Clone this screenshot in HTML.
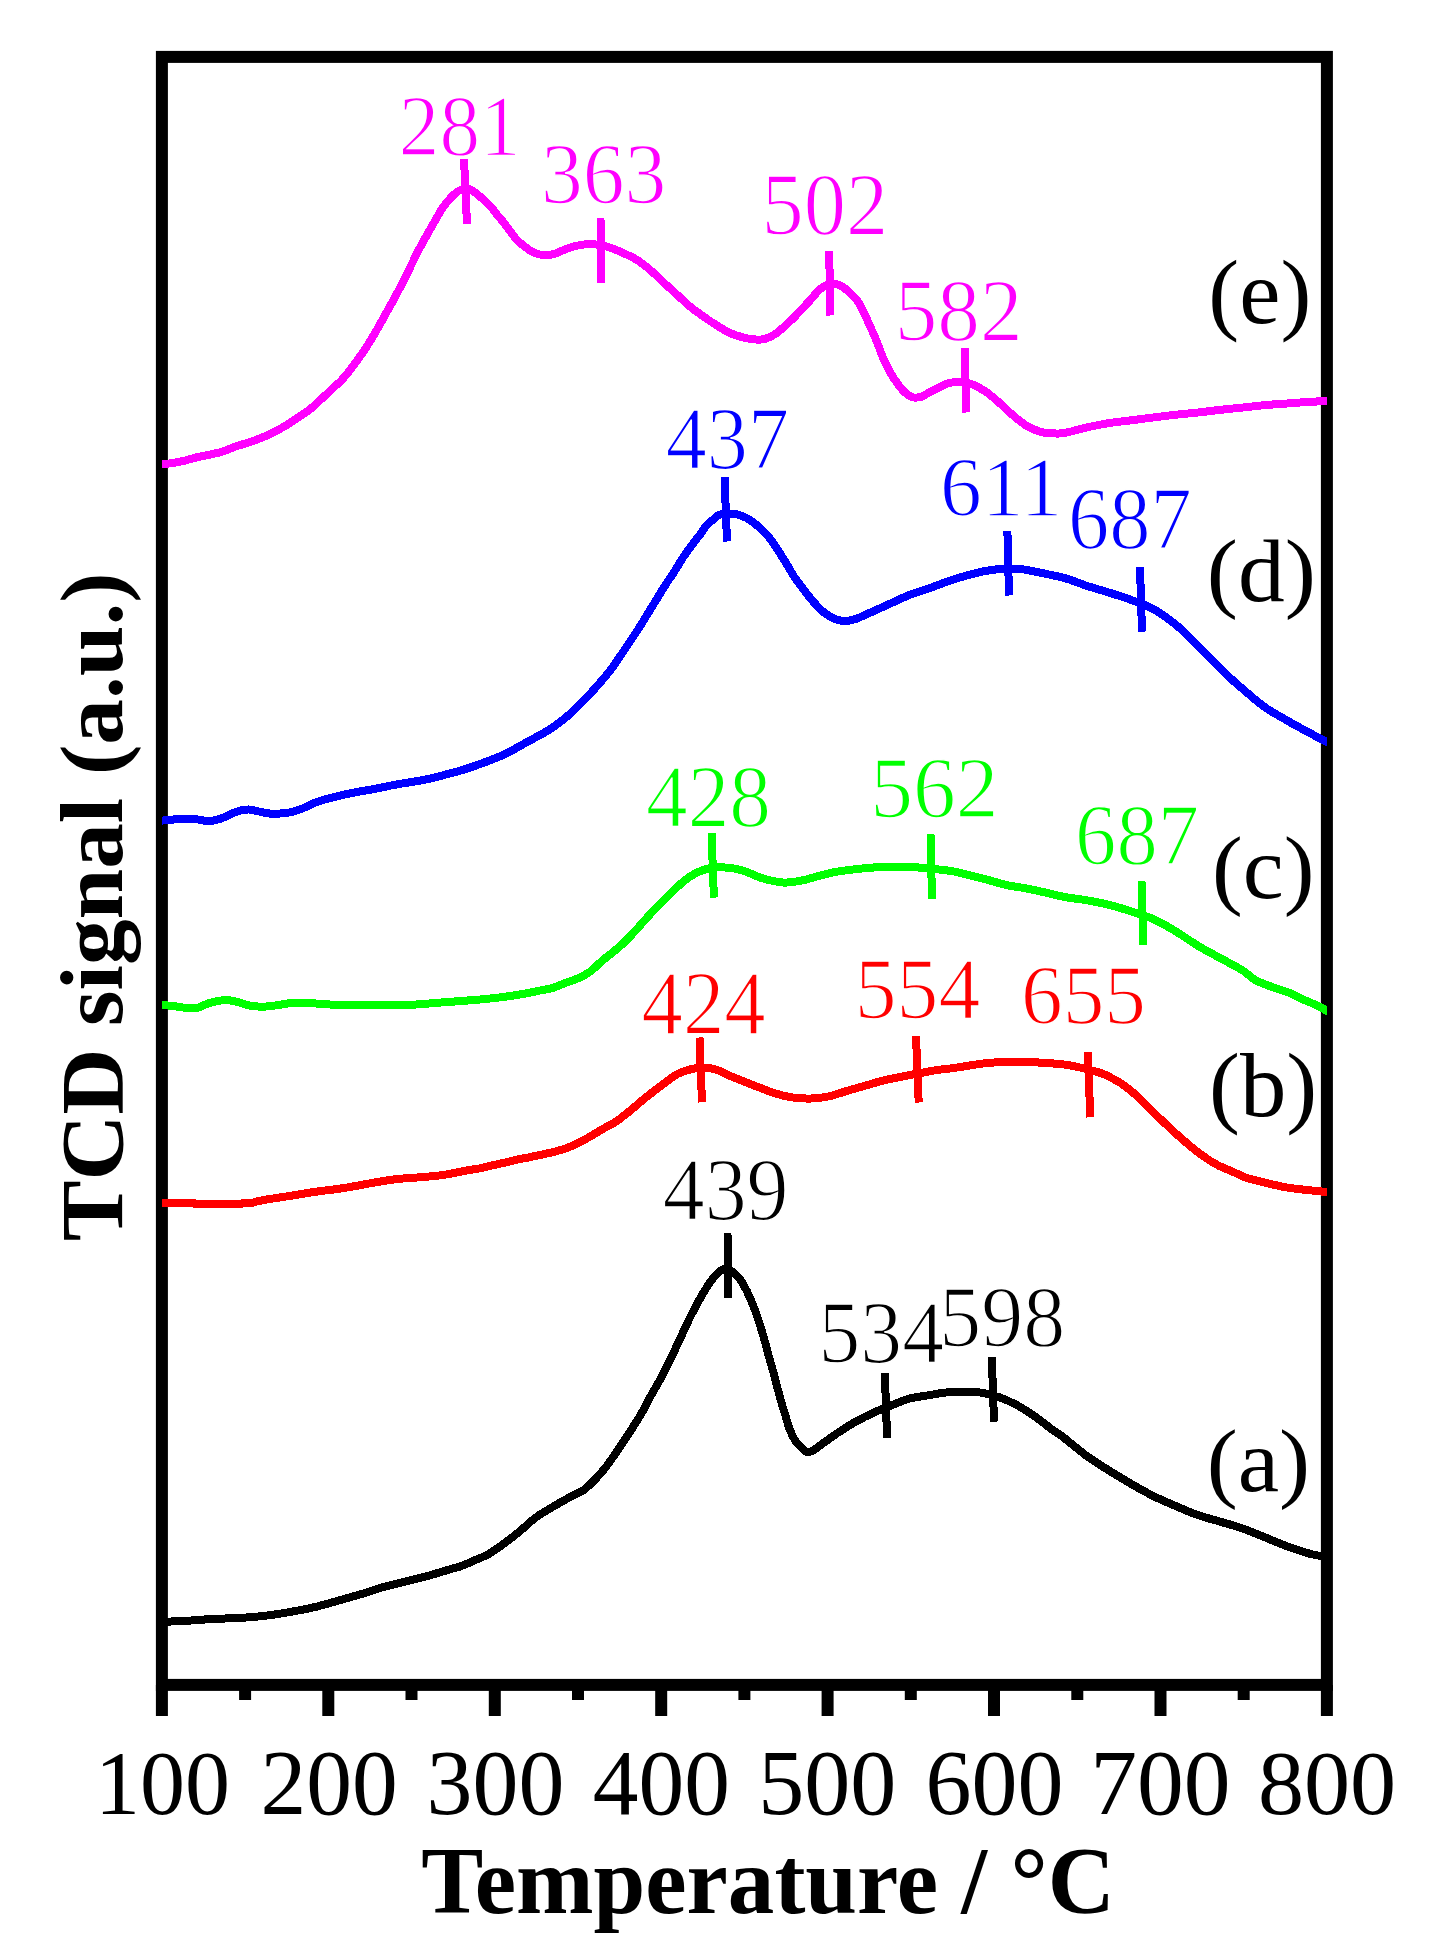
<!DOCTYPE html><html><head><meta charset="utf-8"><title>TPR</title><style>html,body{margin:0;padding:0;background:#fff;overflow:hidden}svg{display:block}</style></head><body>
<svg width="1436" height="1955" viewBox="0 0 1436 1955">
<rect width="1436" height="1955" fill="#fff"/>
<g font-family="Liberation Serif" font-size="100">
<text transform="translate(398.85,154.99) scale(0.8114,0.8574)" fill="#ff00ff" stroke="#fff" stroke-width="1.73">281</text>
<text transform="translate(541.02,202.57) scale(0.8355,0.8657)" fill="#ff00ff" stroke="#fff" stroke-width="1.68">363</text>
<text transform="translate(761.53,233.53) scale(0.8449,0.8836)" fill="#ff00ff" stroke="#fff" stroke-width="1.66">502</text>
<text transform="translate(894.68,340.04) scale(0.8536,0.8821)" fill="#ff00ff" stroke="#fff" stroke-width="1.64">582</text>
<text transform="translate(665.76,467.52) scale(0.8221,0.8803)" fill="#0000ff" stroke="#fff" stroke-width="1.70">437</text>
<text transform="translate(939.96,515.79) scale(0.8360,0.8544)" fill="#0000ff" stroke="#fff" stroke-width="1.67">611</text>
<text transform="translate(1068.00,547.94) scale(0.8252,0.8821)" fill="#0000ff" stroke="#fff" stroke-width="1.70">687</text>
<text transform="translate(646.03,825.73) scale(0.8333,0.8836)" fill="#00ff00" stroke="#fff" stroke-width="1.68">428</text>
<text transform="translate(870.16,817.26) scale(0.8565,0.8716)" fill="#00ff00" stroke="#fff" stroke-width="1.63">562</text>
<text transform="translate(1075.09,864.17) scale(0.8266,0.8657)" fill="#00ff00" stroke="#fff" stroke-width="1.69">687</text>
<text transform="translate(641.54,1033.60) scale(0.8281,0.9000)" fill="#ff0000" stroke="#fff" stroke-width="1.69">424</text>
<text transform="translate(854.68,1018.33) scale(0.8373,0.8697)" fill="#ff0000" stroke="#fff" stroke-width="1.67">554</text>
<text transform="translate(1020.96,1023.99) scale(0.8338,0.8552)" fill="#ff0000" stroke="#fff" stroke-width="1.68">655</text>
<text transform="translate(662.72,1219.32) scale(0.8389,0.8803)" fill="#000000" stroke="#fff" stroke-width="1.67">439</text>
<text transform="translate(818.58,1362.20) scale(0.8359,0.8955)" fill="#000000" stroke="#fff" stroke-width="1.67">534</text>
<text transform="translate(939.37,1345.77) scale(0.8386,0.8657)" fill="#000000" stroke="#fff" stroke-width="1.67">598</text>
<text transform="translate(1208.29,323.42) scale(0.9282,0.9133)" fill="#000000">(e)</text>
<text transform="translate(1206.76,600.59) scale(0.9352,0.8911)" fill="#000000">(d)</text>
<text transform="translate(1212.01,898.29) scale(0.9233,0.8911)" fill="#000000">(c)</text>
<text transform="translate(1209.09,1115.81) scale(0.9278,0.9044)" fill="#000000">(b)</text>
<text transform="translate(1206.78,1491.19) scale(0.9311,0.8956)" fill="#000000">(a)</text>
<text transform="translate(95.10,1813.79) scale(0.9000,0.9074)" fill="#000000">100</text>
<text transform="translate(260.44,1813.76) scale(0.9148,0.9209)" fill="#000000">200</text>
<text transform="translate(426.61,1813.76) scale(0.9184,0.9209)" fill="#000000">300</text>
<text transform="translate(592.77,1813.76) scale(0.9139,0.9209)" fill="#000000">400</text>
<text transform="translate(758.28,1813.76) scale(0.9207,0.9209)" fill="#000000">500</text>
<text transform="translate(925.52,1813.76) scale(0.9197,0.9209)" fill="#000000">600</text>
<text transform="translate(1090.15,1813.76) scale(0.9360,0.9209)" fill="#000000">700</text>
<text transform="translate(1257.91,1813.76) scale(0.9218,0.9209)" fill="#000000">800</text>
<text transform="translate(421.14,1912.96) scale(0.9307,0.9448)" fill="#000000" font-weight="bold">Temperature / °C</text>
<text transform="translate(121.87,1241.32) rotate(-90) scale(0.9122,0.8967)" fill="#000000" font-weight="bold">TCD signal (a.u.)</text>
</g>
<rect x="161.9" y="56.9" width="1165.0" height="1628.0" fill="none" stroke="#000" stroke-width="12"/>
<path d="M161.9,1684.9V1716 M328.3,1684.9V1716 M494.8,1684.9V1716 M661.2,1684.9V1716 M827.6,1684.9V1716 M994.0,1684.9V1716 M1160.5,1684.9V1716 M1326.9,1684.9V1716 M245.1,1684.9V1699.9 M411.5,1684.9V1699.9 M578.0,1684.9V1699.9 M744.4,1684.9V1699.9 M910.8,1684.9V1699.9 M1077.3,1684.9V1699.9 M1243.7,1684.9V1699.9" stroke="#000" stroke-width="12" fill="none"/>
<defs><clipPath id="pa"><rect x="161.9" y="0" width="1165.0" height="1955"/></clipPath></defs>
<g clip-path="url(#pa)">
<path d="M158.5,464.8 C159.2,464.7 160.2,464.6 162.5,464.3 C164.8,464.0 168.7,463.6 172.5,463.0 C176.3,462.4 180.9,461.5 185.1,460.5 C189.3,459.5 193.4,458.1 197.6,457.1 C201.8,456.1 205.9,455.5 210.1,454.6 C214.3,453.7 218.5,452.8 222.7,451.5 C226.9,450.2 231.0,448.2 235.2,446.7 C239.4,445.2 243.5,444.1 247.7,442.7 C251.9,441.3 256.1,440.0 260.3,438.3 C264.5,436.6 268.6,434.8 272.8,432.7 C277.0,430.6 281.1,428.3 285.3,425.8 C289.5,423.3 293.7,420.4 297.9,417.6 C302.1,414.8 306.2,412.2 310.4,408.9 C314.6,405.6 319.0,401.2 322.9,397.6 C326.8,394.0 330.4,390.4 333.5,387.5 C336.6,384.6 338.1,383.9 341.3,380.5 C344.5,377.1 348.8,371.7 352.5,366.8 C356.2,361.9 360.1,356.6 363.8,351.0 C367.6,345.4 371.2,339.4 375.0,333.0 C378.8,326.6 382.6,319.6 386.3,312.8 C390.1,306.1 393.8,299.6 397.5,292.5 C401.2,285.4 405.1,277.5 408.8,270.0 C412.6,262.5 416.2,254.6 420.0,247.5 C423.8,240.4 427.6,233.9 431.3,227.3 C435.1,220.7 438.8,213.6 442.5,208.1 C446.2,202.6 450.4,197.8 453.8,194.6 C457.2,191.4 460.1,189.9 462.8,189.0 C465.5,188.1 467.8,188.6 470.0,189.3 C472.2,190.1 474.0,191.8 476.3,193.5 C478.6,195.2 481.2,197.6 483.6,199.8 C486.0,202.0 488.6,204.1 490.9,206.6 C493.2,209.1 495.1,212.3 497.2,214.9 C499.3,217.5 501.3,219.6 503.4,222.2 C505.5,224.8 507.6,227.8 509.7,230.6 C511.8,233.4 513.6,236.3 516.0,238.9 C518.4,241.5 521.5,244.1 524.3,246.3 C527.1,248.5 529.6,250.5 532.7,252.0 C535.8,253.5 539.6,254.8 543.1,255.1 C546.6,255.4 550.1,255.0 553.6,254.1 C557.1,253.2 560.5,251.2 564.0,249.9 C567.5,248.6 571.0,247.2 574.5,246.3 C578.0,245.4 581.4,244.7 584.9,244.4 C588.4,244.1 591.9,244.1 595.4,244.4 C598.9,244.7 602.3,245.4 605.8,246.3 C609.3,247.2 611.2,247.7 616.2,249.9 C621.2,252.1 630.6,256.1 636.1,259.4 C641.6,262.6 645.0,265.7 649.5,269.4 C654.0,273.1 658.3,277.6 662.8,281.7 C667.2,285.8 671.7,289.8 676.2,293.9 C680.7,298.0 685.1,302.5 689.6,306.2 C694.1,309.9 698.5,313.0 703.0,316.2 C707.5,319.4 711.8,322.3 716.3,325.1 C720.8,327.9 725.2,330.8 729.7,332.9 C734.2,334.9 739.5,336.4 743.1,337.4 C746.7,338.4 748.3,338.6 751.1,339.0 C753.9,339.4 757.3,339.8 760.0,339.6 C762.7,339.4 764.8,339.1 767.5,338.0 C770.2,336.9 773.4,335.3 776.3,333.3 C779.2,331.3 782.2,328.4 785.1,325.8 C788.0,323.2 790.9,320.6 793.8,317.7 C796.7,314.8 799.7,311.4 802.6,308.3 C805.5,305.2 808.7,301.9 811.4,298.9 C814.1,295.9 816.2,292.5 818.9,290.1 C821.6,287.7 825.0,285.4 827.7,284.4 C830.4,283.3 832.7,283.4 835.2,283.8 C837.7,284.2 840.2,285.3 842.7,286.9 C845.2,288.5 847.7,290.8 850.2,293.2 C852.7,295.6 855.5,298.2 857.8,301.4 C860.1,304.6 862.1,308.9 864.0,312.6 C865.9,316.4 867.3,320.1 869.0,323.9 C870.7,327.7 872.4,331.2 874.1,335.2 C875.8,339.2 877.4,343.5 879.1,347.7 C880.8,351.9 882.2,356.1 884.1,360.3 C886.0,364.5 888.1,368.8 890.4,372.8 C892.7,376.8 895.4,380.8 897.9,384.1 C900.4,387.5 902.9,390.7 905.4,392.9 C907.9,395.1 910.2,396.7 912.9,397.3 C915.6,397.9 918.8,397.6 921.7,396.6 C924.6,395.7 927.5,393.2 930.5,391.6 C933.5,390.0 937.2,388.6 940.0,387.2 C942.8,385.8 943.8,384.4 947.2,383.5 C950.6,382.6 956.1,381.5 960.6,381.8 C965.1,382.1 969.5,383.2 974.0,385.1 C978.5,387.0 982.9,389.8 987.4,392.9 C991.9,396.0 996.2,400.1 1000.7,404.0 C1005.2,407.9 1009.6,412.6 1014.1,416.3 C1018.6,420.0 1023.0,423.7 1027.5,426.3 C1032.0,428.9 1036.7,430.7 1040.8,431.9 C1044.9,433.1 1048.0,433.1 1052.0,433.3 C1056.0,433.5 1058.8,434.0 1064.6,433.0 C1070.4,432.0 1079.5,429.0 1086.9,427.4 C1094.3,425.8 1101.7,424.3 1109.1,423.1 C1116.5,421.9 1124.0,421.2 1131.4,420.3 C1138.8,419.4 1146.3,418.3 1153.7,417.4 C1161.1,416.5 1168.6,415.5 1176.0,414.7 C1183.4,413.9 1190.9,413.3 1198.3,412.5 C1205.7,411.7 1213.2,410.6 1220.6,409.8 C1228.0,409.0 1235.4,408.3 1242.8,407.5 C1250.2,406.7 1257.7,405.8 1265.1,405.1 C1272.5,404.4 1280.0,404.1 1287.4,403.5 C1294.8,402.9 1303.2,402.2 1309.7,401.8 C1316.2,401.4 1323.0,401.4 1326.4,401.3 C1329.9,401.2 1329.7,401.2 1330.4,401.2" fill="none" stroke="#ff00ff" stroke-width="8" stroke-linejoin="round" stroke-linecap="butt" shape-rendering="crispEdges"/>
<path d="M158.2,821.0 C158.9,820.9 159.7,820.8 162.2,820.6 C164.7,820.4 169.3,819.8 173.4,819.5 C177.5,819.2 182.6,818.8 186.7,818.8 C190.8,818.8 194.2,819.1 197.9,819.5 C201.6,819.9 205.3,821.2 209.0,821.1 C212.7,821.0 216.5,820.0 220.2,818.8 C223.9,817.6 228.0,815.3 231.3,813.9 C234.6,812.5 237.2,811.3 240.2,810.6 C243.2,809.9 246.1,809.4 249.1,809.5 C252.1,809.6 254.7,810.6 258.0,811.3 C261.4,812.0 265.5,813.1 269.2,813.5 C272.9,813.9 276.6,813.7 280.3,813.5 C284.0,813.3 287.8,813.0 291.5,812.1 C295.2,811.2 298.5,810.0 302.6,808.4 C306.7,806.8 311.5,804.0 316.0,802.3 C320.5,800.6 324.9,799.5 329.4,798.3 C333.8,797.1 338.2,796.0 342.7,795.0 C347.1,794.0 351.6,793.0 356.1,792.1 C360.6,791.2 365.1,790.7 369.5,789.9 C373.9,789.1 378.4,788.1 382.8,787.2 C387.2,786.3 391.7,785.3 396.2,784.5 C400.7,783.7 405.1,783.0 409.6,782.3 C414.1,781.5 418.6,780.9 423.0,780.0 C427.4,779.1 431.9,778.3 436.3,777.2 C440.8,776.1 445.2,774.6 449.7,773.4 C454.2,772.2 457.7,771.5 463.1,769.8 C468.5,768.1 475.4,765.8 482.3,763.2 C489.2,760.6 497.2,757.8 504.6,754.3 C512.0,750.8 519.5,746.2 526.9,742.1 C534.3,738.0 542.5,734.0 549.1,729.8 C555.8,725.5 562.2,720.4 566.8,716.6 C571.4,712.8 573.3,710.5 576.9,707.0 C580.5,703.5 584.4,699.7 588.1,695.8 C591.9,691.9 595.6,687.7 599.4,683.4 C603.1,679.1 607.0,674.6 610.6,669.9 C614.2,665.2 617.6,660.0 620.8,655.3 C624.0,650.6 626.8,646.3 629.8,641.8 C632.8,637.3 635.8,633.0 638.8,628.3 C641.8,623.6 644.8,618.5 647.8,613.6 C650.8,608.7 653.8,603.9 656.8,599.0 C659.8,594.1 662.8,589.1 665.8,584.4 C668.8,579.7 671.8,575.6 674.8,570.9 C677.8,566.2 680.8,560.8 683.8,556.3 C686.8,551.8 689.8,547.8 692.8,543.9 C695.8,540.0 699.2,535.6 701.5,532.6 C703.8,529.6 704.5,527.8 706.3,525.7 C708.1,523.6 710.4,521.9 712.5,520.1 C714.6,518.3 716.5,516.2 718.8,515.1 C721.1,514.0 723.8,514.0 726.3,513.8 C728.8,513.6 731.3,513.5 733.8,513.8 C736.3,514.1 738.7,514.7 741.4,515.7 C744.1,516.8 747.2,518.2 750.1,520.1 C753.0,522.0 756.0,524.4 758.9,527.0 C761.8,529.6 765.0,532.7 767.7,535.8 C770.4,538.9 772.9,542.5 775.2,545.8 C777.5,549.1 779.4,552.5 781.5,555.8 C783.6,559.1 785.6,562.3 787.7,565.8 C789.8,569.2 791.7,573.0 794.0,576.5 C796.3,580.0 799.0,583.2 801.5,586.5 C804.0,589.8 806.5,593.4 809.0,596.5 C811.5,599.6 813.9,602.5 816.6,605.3 C819.3,608.1 822.2,611.2 825.3,613.5 C828.4,615.8 832.0,617.9 835.4,619.1 C838.8,620.4 842.1,621.0 845.4,621.0 C848.7,621.0 852.0,620.1 855.4,619.1 C858.8,618.1 862.1,616.2 865.5,614.7 C868.9,613.2 871.2,612.2 875.5,610.3 C879.8,608.3 885.9,605.5 891.5,603.0 C897.1,600.5 903.1,597.5 909.4,595.0 C915.7,592.5 922.7,590.6 929.4,588.2 C936.1,585.8 943.2,582.9 949.5,580.8 C955.8,578.6 961.4,576.9 967.3,575.3 C973.2,573.7 979.1,572.1 985.1,571.0 C991.1,569.9 997.4,569.2 1003.0,568.8 C1008.6,568.4 1013.0,568.3 1018.6,568.8 C1024.2,569.3 1028.7,570.3 1036.4,571.9 C1044.1,573.5 1056.2,575.8 1064.6,578.1 C1073.0,580.4 1079.5,583.5 1086.9,585.9 C1094.3,588.3 1101.7,590.2 1109.1,592.6 C1116.5,595.0 1124.0,597.2 1131.4,600.0 C1138.8,602.8 1146.3,605.1 1153.7,609.3 C1161.1,613.4 1169.3,619.5 1176.0,624.9 C1182.7,630.3 1187.9,635.9 1193.8,641.6 C1199.7,647.4 1205.6,653.5 1211.6,659.4 C1217.5,665.3 1223.5,671.7 1229.5,677.3 C1235.5,682.9 1241.4,687.9 1247.3,692.9 C1253.2,697.9 1258.4,702.8 1265.1,707.4 C1271.8,712.0 1280.0,716.4 1287.4,720.7 C1294.8,725.0 1303.2,729.5 1309.7,733.0 C1316.2,736.5 1323.0,740.1 1326.4,741.9 C1329.9,743.7 1329.7,743.7 1330.4,744.0" fill="none" stroke="#0000ff" stroke-width="8" stroke-linejoin="round" stroke-linecap="butt" shape-rendering="crispEdges"/>
<path d="M158.2,1004.6 C158.9,1004.7 159.7,1004.8 162.2,1005.0 C164.7,1005.2 169.3,1005.6 173.4,1006.1 C177.5,1006.6 182.6,1007.6 186.7,1007.9 C190.8,1008.1 194.2,1008.4 197.9,1007.6 C201.6,1006.8 204.6,1004.5 209.0,1003.2 C213.4,1002.0 220.1,1000.4 224.6,1000.1 C229.1,999.8 231.7,1000.7 235.8,1001.6 C239.9,1002.5 244.7,1004.5 249.1,1005.4 C253.5,1006.2 258.0,1006.7 262.5,1006.7 C267.0,1006.7 270.7,1006.1 275.9,1005.4 C281.1,1004.7 287.8,1003.1 293.7,1002.7 C299.6,1002.3 305.6,1002.9 311.5,1003.2 C317.4,1003.5 321.2,1004.2 329.4,1004.5 C337.6,1004.8 349.8,1004.9 360.6,1005.0 C371.4,1005.1 384.7,1005.1 394.0,1005.0 C403.3,1004.9 408.9,1004.9 416.3,1004.5 C423.7,1004.1 431.6,1003.2 438.6,1002.7 C445.7,1002.2 451.3,1001.8 458.6,1001.2 C465.9,1000.6 474.6,1000.0 482.3,999.3 C490.0,998.6 497.2,997.8 504.6,996.8 C512.0,995.8 521.0,994.3 526.9,993.3 C532.8,992.2 535.7,991.4 540.0,990.5 C544.3,989.6 548.3,989.2 552.5,988.0 C556.7,986.8 560.9,984.6 565.1,983.0 C569.3,981.4 573.4,980.4 577.6,978.5 C581.8,976.6 585.9,974.6 590.1,971.6 C594.3,968.6 598.5,963.8 602.7,960.3 C606.9,956.8 611.0,953.8 615.2,950.3 C619.4,946.8 623.5,943.2 627.7,939.0 C631.9,934.8 636.1,929.8 640.3,925.2 C644.5,920.6 648.6,915.8 652.8,911.4 C657.0,907.0 661.1,903.1 665.3,898.9 C669.5,894.7 673.7,890.2 677.9,886.4 C682.1,882.6 686.2,879.0 690.4,876.3 C694.6,873.6 698.7,871.6 702.9,870.1 C707.1,868.6 710.7,867.8 715.5,867.5 C720.3,867.2 726.9,867.5 731.9,868.1 C736.9,868.8 740.8,869.9 745.2,871.4 C749.7,872.9 754.3,875.5 758.6,877.0 C762.9,878.5 766.7,879.6 771.0,880.5 C775.3,881.4 779.4,882.6 784.6,882.6 C789.8,882.6 796.5,881.6 802.4,880.4 C808.3,879.2 814.3,877.0 820.2,875.5 C826.1,874.0 832.0,872.5 838.0,871.5 C844.0,870.5 849.9,869.9 855.9,869.2 C861.9,868.5 867.0,867.9 873.7,867.5 C880.4,867.1 888.6,867.0 896.0,867.0 C903.4,867.0 911.6,867.1 918.3,867.5 C925.0,867.9 930.2,868.5 936.1,869.2 C942.0,869.9 948.0,870.4 953.9,871.5 C959.8,872.6 965.8,874.4 971.8,875.9 C977.8,877.4 983.7,878.8 989.6,880.4 C995.5,882.0 1001.5,884.0 1007.4,885.3 C1013.3,886.6 1019.2,887.1 1025.2,888.2 C1031.2,889.3 1036.5,890.5 1043.1,892.0 C1049.7,893.5 1057.3,895.6 1064.6,897.0 C1071.9,898.4 1079.5,899.0 1086.9,900.3 C1094.3,901.6 1101.7,902.9 1109.1,904.8 C1116.5,906.7 1124.0,909.1 1131.4,911.5 C1138.8,913.9 1146.3,916.0 1153.7,919.3 C1161.1,922.6 1168.6,927.0 1176.0,931.5 C1183.4,936.0 1190.9,941.5 1198.3,946.0 C1205.7,950.5 1213.2,954.2 1220.6,958.3 C1228.0,962.4 1236.9,966.8 1242.8,970.5 C1248.7,974.2 1250.6,977.6 1256.2,980.6 C1261.8,983.6 1270.3,986.2 1276.3,988.4 C1282.2,990.6 1287.5,992.0 1291.9,993.9 C1296.4,995.8 1298.9,997.6 1303.0,999.5 C1307.1,1001.4 1312.5,1003.2 1316.4,1005.1 C1320.3,1007.0 1324.1,1009.3 1326.4,1010.6 C1328.7,1011.9 1329.7,1012.4 1330.4,1012.8" fill="none" stroke="#00ff00" stroke-width="8" stroke-linejoin="round" stroke-linecap="butt" shape-rendering="crispEdges"/>
<path d="M158.2,1203.0 C158.9,1203.0 156.4,1203.0 162.2,1203.0 C168.0,1203.0 187.2,1202.8 193.0,1203.0 C198.8,1203.2 189.5,1203.8 197.0,1204.0 C204.5,1204.2 230.3,1204.2 238.0,1204.0 C245.7,1203.8 240.7,1203.2 243.0,1203.0 C245.3,1202.8 249.2,1203.1 251.6,1202.8 C254.0,1202.5 254.9,1201.9 257.5,1201.3 C260.1,1200.7 263.9,1200.0 267.2,1199.4 C270.4,1198.8 273.8,1198.4 277.0,1197.9 C280.2,1197.4 283.4,1196.9 286.7,1196.4 C289.9,1195.9 291.0,1195.7 296.5,1194.8 C302.0,1193.9 312.4,1192.2 319.5,1191.2 C326.6,1190.2 332.5,1189.8 339.0,1188.8 C345.5,1187.8 352.0,1186.7 358.5,1185.5 C365.0,1184.3 371.5,1183.0 378.0,1181.9 C384.5,1180.8 391.0,1179.7 397.5,1179.0 C404.0,1178.3 410.5,1178.0 417.0,1177.5 C423.5,1177.0 431.1,1176.4 436.5,1175.8 C441.9,1175.2 445.9,1174.6 449.7,1173.9 C453.5,1173.2 456.2,1172.6 459.5,1171.9 C462.8,1171.2 465.9,1170.6 469.2,1170.0 C472.4,1169.4 475.8,1169.1 479.0,1168.5 C482.2,1167.9 485.4,1167.1 488.7,1166.3 C491.9,1165.5 495.2,1164.7 498.5,1163.9 C501.8,1163.2 504.9,1162.6 508.2,1161.8 C511.4,1161.0 514.8,1160.0 518.0,1159.3 C521.2,1158.6 524.5,1158.2 527.7,1157.6 C531.0,1157.0 534.2,1156.2 537.5,1155.5 C540.8,1154.8 544.0,1154.2 547.2,1153.4 C550.5,1152.7 553.8,1151.9 557.0,1151.0 C560.2,1150.1 563.3,1149.3 566.7,1148.0 C570.1,1146.7 573.7,1145.3 577.6,1143.4 C581.5,1141.5 585.9,1138.9 590.1,1136.5 C594.3,1134.1 598.5,1131.4 602.7,1129.0 C606.9,1126.6 611.0,1124.8 615.2,1122.1 C619.4,1119.4 623.5,1116.0 627.7,1112.7 C631.9,1109.4 636.1,1105.5 640.3,1102.0 C644.5,1098.5 648.6,1095.2 652.8,1092.0 C657.0,1088.8 661.1,1085.6 665.3,1082.6 C669.5,1079.6 673.7,1076.0 677.9,1073.8 C682.1,1071.6 686.2,1070.5 690.4,1069.4 C694.6,1068.4 698.7,1067.5 702.9,1067.5 C707.1,1067.5 711.4,1068.2 715.5,1069.4 C719.6,1070.6 723.2,1072.9 727.4,1074.7 C731.6,1076.5 735.7,1078.3 740.8,1080.3 C745.9,1082.3 752.0,1084.7 757.8,1086.9 C763.6,1089.1 769.8,1091.8 775.7,1093.6 C781.7,1095.4 787.6,1096.8 793.5,1097.6 C799.4,1098.4 805.4,1098.7 811.3,1098.5 C817.2,1098.3 823.1,1097.6 829.1,1096.3 C835.1,1095.0 841.0,1092.7 847.0,1090.9 C853.0,1089.2 858.9,1087.5 864.8,1085.8 C870.7,1084.1 876.7,1082.2 882.6,1080.7 C888.5,1079.2 894.5,1078.1 900.4,1076.9 C906.3,1075.7 912.3,1074.6 918.3,1073.5 C924.2,1072.4 930.2,1071.1 936.1,1070.2 C942.0,1069.3 948.0,1068.8 953.9,1068.0 C959.8,1067.2 965.8,1066.0 971.8,1065.1 C977.8,1064.2 983.7,1063.3 989.6,1062.8 C995.5,1062.3 1001.5,1062.1 1007.4,1061.9 C1013.3,1061.8 1019.2,1061.8 1025.2,1061.9 C1031.2,1062.1 1036.5,1062.3 1043.1,1062.8 C1049.7,1063.2 1058.4,1063.8 1064.6,1064.6 C1070.8,1065.4 1075.0,1066.4 1080.0,1067.5 C1085.0,1068.6 1090.6,1070.1 1094.5,1071.2 C1098.4,1072.3 1100.4,1072.8 1103.4,1074.0 C1106.4,1075.2 1109.3,1076.8 1112.3,1078.4 C1115.3,1080.0 1118.2,1081.5 1121.2,1083.4 C1124.2,1085.4 1127.1,1087.7 1130.1,1090.1 C1133.1,1092.5 1136.0,1095.1 1139.0,1097.9 C1142.0,1100.7 1144.9,1103.8 1147.9,1106.8 C1150.9,1109.8 1153.9,1112.8 1156.9,1115.7 C1159.9,1118.6 1162.8,1121.3 1165.8,1124.1 C1168.8,1126.9 1171.7,1129.8 1174.7,1132.5 C1177.7,1135.2 1180.6,1137.7 1183.6,1140.3 C1186.6,1142.9 1189.5,1145.6 1192.5,1148.0 C1195.5,1150.4 1198.4,1152.5 1201.4,1154.7 C1204.4,1156.9 1207.3,1159.0 1210.3,1160.9 C1213.3,1162.8 1216.2,1164.4 1219.2,1165.9 C1222.2,1167.4 1225.2,1168.5 1228.2,1169.8 C1231.2,1171.1 1234.1,1172.4 1237.1,1173.7 C1240.1,1175.0 1242.2,1176.3 1246.0,1177.6 C1249.8,1178.9 1256.1,1180.5 1260.0,1181.5 C1263.9,1182.5 1265.0,1182.8 1269.6,1183.8 C1274.2,1184.8 1281.5,1186.6 1287.4,1187.6 C1293.3,1188.6 1298.7,1189.1 1305.2,1189.8 C1311.7,1190.5 1322.2,1191.6 1326.4,1192.0 C1330.6,1192.4 1329.7,1192.3 1330.4,1192.4" fill="none" stroke="#ff0000" stroke-width="8" stroke-linejoin="round" stroke-linecap="butt" shape-rendering="crispEdges"/>
<path d="M158.0,1621.8 C158.7,1621.8 157.9,1621.8 162.0,1621.7 C166.1,1621.6 175.2,1621.5 182.3,1621.1 C189.4,1620.7 197.2,1620.0 204.6,1619.5 C212.0,1619.0 219.5,1618.8 226.9,1618.4 C234.3,1618.0 241.7,1617.9 249.1,1617.3 C256.5,1616.7 264.0,1616.0 271.4,1615.0 C278.8,1614.0 286.3,1612.7 293.7,1611.3 C301.1,1609.9 308.6,1608.6 316.0,1606.8 C323.4,1605.0 330.9,1602.7 338.3,1600.6 C345.7,1598.5 353.2,1596.5 360.6,1594.3 C368.0,1592.1 375.4,1589.3 382.8,1587.2 C390.2,1585.1 397.7,1583.5 405.1,1581.6 C412.5,1579.7 420.0,1578.0 427.4,1576.0 C434.8,1574.0 444.3,1571.0 449.7,1569.4 C455.1,1567.8 456.1,1567.9 460.0,1566.5 C463.9,1565.1 468.6,1563.0 473.4,1560.9 C478.2,1558.8 483.8,1556.8 489.0,1553.8 C494.2,1550.8 499.4,1546.9 504.6,1543.1 C509.8,1539.3 515.0,1535.2 520.2,1530.9 C525.4,1526.6 530.2,1521.6 535.8,1517.5 C541.4,1513.4 547.7,1509.9 553.6,1506.4 C559.5,1502.9 566.6,1498.9 571.4,1496.3 C576.2,1493.7 579.0,1493.1 582.5,1490.8 C586.0,1488.5 588.6,1486.0 592.3,1482.3 C596.0,1478.6 600.5,1473.8 604.6,1468.7 C608.7,1463.6 612.7,1457.5 616.8,1451.6 C620.9,1445.7 625.0,1439.4 629.1,1433.1 C633.2,1426.8 637.7,1419.8 641.4,1413.5 C645.1,1407.2 647.9,1401.0 651.2,1395.1 C654.5,1389.2 657.7,1384.1 661.0,1377.9 C664.3,1371.8 667.6,1365.0 670.9,1358.2 C674.2,1351.5 677.4,1344.4 680.7,1337.4 C684.0,1330.5 687.2,1323.0 690.5,1316.5 C693.8,1310.0 697.0,1303.8 700.3,1298.1 C703.6,1292.4 706.9,1286.6 710.2,1282.1 C713.5,1277.6 717.1,1273.3 720.0,1271.1 C722.9,1268.8 724.6,1267.9 727.3,1268.6 C730.0,1269.2 733.7,1272.8 736.1,1275.0 C738.5,1277.2 739.7,1278.8 741.5,1281.5 C743.3,1284.2 745.3,1288.0 746.9,1291.2 C748.5,1294.4 749.8,1297.4 751.2,1300.8 C752.6,1304.2 754.1,1307.6 755.5,1311.6 C756.9,1315.5 758.4,1320.0 759.8,1324.5 C761.2,1329.0 762.6,1333.4 764.0,1338.4 C765.4,1343.4 766.9,1349.3 768.3,1354.5 C769.7,1359.7 771.2,1364.4 772.6,1369.6 C774.0,1374.8 775.5,1380.3 776.9,1385.7 C778.3,1391.1 779.8,1396.8 781.2,1401.8 C782.6,1406.8 784.1,1411.1 785.5,1415.8 C786.9,1420.5 788.2,1425.6 789.8,1429.7 C791.4,1433.8 793.2,1437.5 795.2,1440.5 C797.2,1443.5 799.7,1446.0 801.7,1448.0 C803.7,1450.0 805.0,1451.9 807.0,1452.3 C809.0,1452.7 811.2,1451.5 813.5,1450.2 C815.8,1449.0 818.5,1446.6 821.0,1444.8 C823.5,1443.0 825.7,1441.4 828.5,1439.4 C831.3,1437.4 833.4,1435.7 838.0,1432.7 C842.6,1429.7 849.9,1424.9 855.9,1421.6 C861.9,1418.2 867.8,1415.3 873.7,1412.6 C879.6,1409.9 885.5,1407.6 891.5,1405.3 C897.5,1403.0 903.4,1400.2 909.4,1398.6 C915.4,1397.0 921.3,1396.5 927.2,1395.5 C933.1,1394.5 939.1,1393.3 945.0,1392.6 C950.9,1391.9 956.8,1391.5 962.8,1391.5 C968.8,1391.5 974.8,1391.7 980.7,1392.6 C986.7,1393.5 992.6,1395.0 998.5,1397.0 C1004.4,1399.0 1010.3,1401.6 1016.3,1404.8 C1022.2,1408.0 1028.2,1411.9 1034.2,1416.0 C1040.2,1420.1 1046.9,1425.7 1052.0,1429.4 C1057.1,1433.1 1058.8,1433.8 1064.6,1438.3 C1070.4,1442.8 1079.5,1450.7 1086.9,1456.1 C1094.3,1461.5 1101.7,1465.9 1109.1,1470.6 C1116.5,1475.2 1124.0,1479.7 1131.4,1484.0 C1138.8,1488.3 1146.3,1492.5 1153.7,1496.2 C1161.1,1499.9 1168.6,1503.0 1176.0,1506.2 C1183.4,1509.4 1190.9,1512.6 1198.3,1515.2 C1205.7,1517.8 1213.2,1519.6 1220.6,1521.8 C1228.0,1524.0 1235.4,1525.9 1242.8,1528.5 C1250.2,1531.1 1257.7,1534.4 1265.1,1537.4 C1272.5,1540.4 1280.0,1543.7 1287.4,1546.4 C1294.8,1549.1 1303.2,1551.9 1309.7,1553.7 C1316.2,1555.5 1323.0,1556.3 1326.4,1557.0 C1329.9,1557.7 1329.7,1557.7 1330.4,1557.8" fill="none" stroke="#000000" stroke-width="8" stroke-linejoin="round" stroke-linecap="butt" shape-rendering="crispEdges"/>
</g>
<line x1="464" y1="159" x2="467" y2="224" stroke="#ff00ff" stroke-width="8" shape-rendering="crispEdges"/>
<line x1="600.5" y1="218" x2="601.5" y2="283" stroke="#ff00ff" stroke-width="8" shape-rendering="crispEdges"/>
<line x1="829.2" y1="251.4" x2="830.4" y2="315.5" stroke="#ff00ff" stroke-width="8" shape-rendering="crispEdges"/>
<line x1="964.5" y1="347.9" x2="966.5" y2="412.5" stroke="#ff00ff" stroke-width="8" shape-rendering="crispEdges"/>
<line x1="724.5" y1="476.9" x2="727" y2="541.5" stroke="#0000ff" stroke-width="8" shape-rendering="crispEdges"/>
<line x1="1007.4" y1="530.9" x2="1009" y2="595.5" stroke="#0000ff" stroke-width="8" shape-rendering="crispEdges"/>
<line x1="1140" y1="567.4" x2="1142" y2="631.6" stroke="#0000ff" stroke-width="8" shape-rendering="crispEdges"/>
<line x1="711.5" y1="833.1" x2="713.9" y2="897.6" stroke="#00ff00" stroke-width="8" shape-rendering="crispEdges"/>
<line x1="930.5" y1="834" x2="932" y2="898.7" stroke="#00ff00" stroke-width="8" shape-rendering="crispEdges"/>
<line x1="1141.5" y1="881.4" x2="1143.5" y2="945.3" stroke="#00ff00" stroke-width="8" shape-rendering="crispEdges"/>
<line x1="699.5" y1="1037.5" x2="702" y2="1102.4" stroke="#ff0000" stroke-width="8" shape-rendering="crispEdges"/>
<line x1="916" y1="1036.1" x2="918.7" y2="1102.5" stroke="#ff0000" stroke-width="8" shape-rendering="crispEdges"/>
<line x1="1088" y1="1052.3" x2="1090.2" y2="1117.4" stroke="#ff0000" stroke-width="8" shape-rendering="crispEdges"/>
<line x1="727.5" y1="1232.9" x2="728.5" y2="1297.8" stroke="#000000" stroke-width="8" shape-rendering="crispEdges"/>
<line x1="884.8" y1="1373.2" x2="887.1" y2="1438.3" stroke="#000000" stroke-width="8" shape-rendering="crispEdges"/>
<line x1="991.8" y1="1356.9" x2="994" y2="1421.6" stroke="#000000" stroke-width="8" shape-rendering="crispEdges"/>
</svg></body></html>
